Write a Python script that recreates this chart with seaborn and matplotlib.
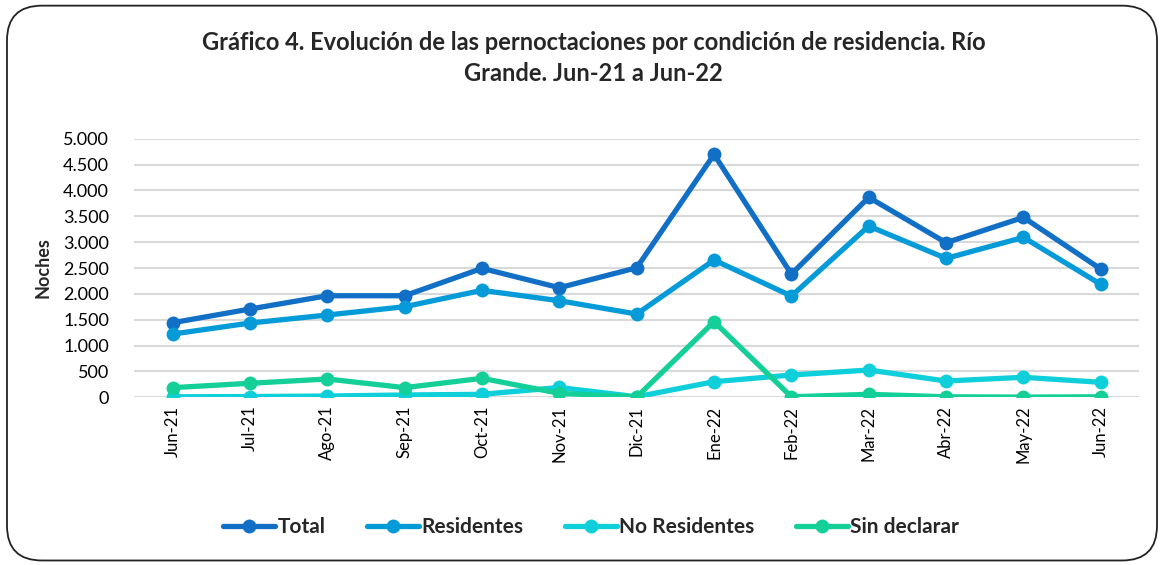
import matplotlib
matplotlib.use("Agg")
import matplotlib.pyplot as plt
from matplotlib.patches import FancyBboxPatch
from matplotlib.ticker import FuncFormatter
from matplotlib.lines import Line2D
import seaborn as sns
import pandas as pd

months = ["Jun-21", "Jul-21", "Ago-21", "Sep-21", "Oct-21", "Nov-21", "Dic-21",
          "Ene-22", "Feb-22", "Mar-22", "Abr-22", "May-22", "Jun-22"]
total = [1442, 1707, 1964, 1964, 2493, 2119, 2505, 4696, 2383, 3866, 2989, 3479, 2480]
residentes = [1223, 1436, 1591, 1752, 2068, 1867, 1610, 2654, 1958, 3311, 2686, 3093, 2184]
no_residentes = [10, 15, 25, 45, 58, 190, 10, 302, 431, 528, 315, 387, 290]
sin_declarar = [187, 271, 354, 187, 367, 77, 5, 1462, 10, 58, 10, 5, 10]

series_names = ["Total", "Residentes", "No Residentes", "Sin declarar"]
colors = ["#1170C6", "#049BD8", "#0ECFDA", "#14CF98"]

rows = []
for name, vals in zip(series_names, [total, residentes, no_residentes, sin_declarar]):
    for i, v in enumerate(vals):
        rows.append({"pos": i, "mes": months[i], "serie": name, "valor": v})
df = pd.DataFrame(rows)

sns.set_theme(style="white")
plt.rcParams["font.family"] = ["Lato", "DejaVu Sans"]

fig = plt.figure(figsize=(11.64, 5.65), dpi=100)
ax = fig.add_axes([0.1151, 0.2968, 0.8638, 0.4577])

sns.lineplot(data=df, x="pos", y="valor", hue="serie", hue_order=series_names,
             palette=colors, marker="o", markersize=10, markeredgewidth=0,
             linewidth=3.8, sort=False, ax=ax, legend=False)

ax.set_xlim(-0.5, len(months) - 0.5)
ax.set_ylim(0, 5000)
ax.set_yticks(range(0, 5001, 500))
ax.yaxis.set_major_formatter(FuncFormatter(lambda v, p: f"{int(v):,}".replace(",", ".")))
ax.set_xticks(range(len(months)))
ax.set_xticklabels(months, rotation=90)
ax.tick_params(axis="x", labelsize=12, pad=6, length=0, colors="#000000")
ax.tick_params(axis="y", labelsize=13, pad=18, length=0, colors="#000000")
ax.grid(axis="y", color="#D9D9D9", linewidth=1.5)
ax.set_axisbelow(True)
for s in ax.spines.values():
    s.set_visible(False)
ax.set_xlabel("")
ax.set_ylabel("Noches", fontsize=13, fontweight="bold", labelpad=8)

fig.text(0.510, 0.924, "Gráfico 4. Evolución de las pernoctaciones por condición de residencia. Río",
         ha="center", va="center", fontsize=17, fontweight="bold")
fig.text(0.510, 0.870, "Grande. Jun-21 a Jun-22",
         ha="center", va="center", fontsize=17, fontweight="bold")

handles = [Line2D([0], [0], color=c, lw=3.8, marker="o", markersize=10, markeredgewidth=0)
           for c in colors]
fig.legend(handles, series_names, loc="center", bbox_to_anchor=(0.508, 0.067), ncol=4,
           frameon=False, prop={"size": 15, "weight": "bold"}, handlelength=2.5,
           handletextpad=0.1, columnspacing=2.0)

border = FancyBboxPatch((0.006, 0.008), 0.988, 0.982, boxstyle="round,pad=0,rounding_size=0.03",
                        transform=fig.transFigure, fill=False, edgecolor="#222222", linewidth=1.3,
                        mutation_aspect=1164 / 565)
fig.patches.append(border)

fig.savefig("out.png", dpi=100)
